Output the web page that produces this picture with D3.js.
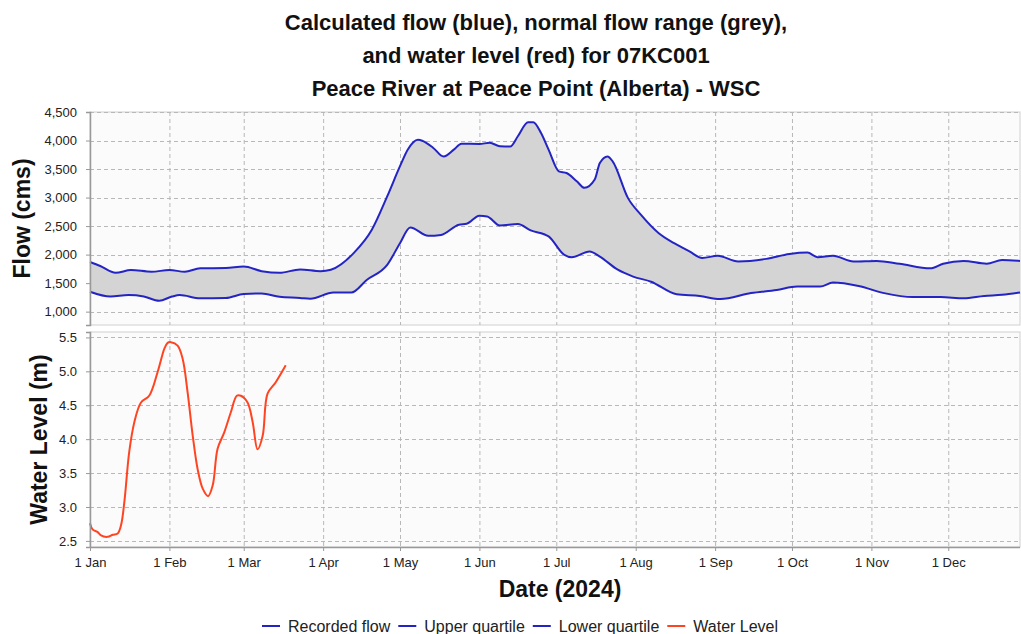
<!DOCTYPE html>
<html>
<head>
<meta charset="utf-8">
<script src="https://cdn.jsdelivr.net/npm/d3@7"></script>
<style>
  body { margin: 0; background: #fff; }
  text { font-family: "Liberation Sans", Arial, sans-serif; }
</style>
</head>
<body>
<script>
// day of year (0 = 1 Jan 2024) and flow values
var upperDays = [0,4,10,16,24,31,37,43,53,60,67,74,82,90,94,103,110,116,121,124,128,130,134,138,142,145,152,156,160,164,167,171,173,176,179,183,186,190,193,197,199,202,204,210,215,222,228,234,239,245,253,264,273,280,284,290,298,307,316,328,333,341,350,356,363];
var upperFlow = [1870,1800,1680,1730,1700,1730,1700,1760,1765,1790,1710,1680,1740,1710,1735,2030,2435,3020,3550,3840,4015,3990,3870,3720,3840,3945,3940,3960,3900,3895,4075,4320,4320,4135,3840,3460,3430,3285,3170,3315,3605,3720,3635,2990,2700,2375,2200,2055,1940,1980,1880,1925,2010,2035,1955,1980,1880,1890,1840,1760,1840,1890,1840,1905,1890];

var lowerDays = [0,8,15,21,27,32,35,43,53,60,67,74,82,86,95,102,108,116,121,125,132,137,144,147,152,155,160,167,172,179,185,188,195,199,206,212,219,229,238,246,258,268,276,285,290,300,310,321,332,341,349,356,363];
var lowerFlow = [1350,1265,1290,1265,1190,1265,1290,1235,1240,1310,1320,1260,1240,1225,1335,1335,1555,1820,2200,2475,2330,2345,2525,2540,2680,2670,2510,2535,2425,2320,2000,1955,2055,1965,1735,1615,1525,1305,1275,1220,1325,1380,1440,1440,1510,1450,1325,1255,1255,1235,1275,1295,1335];

var levelDays = [0,1,3,4.3,6.9,8.9,10.8,12.1,13.4,15.3,17.3,19.9,23.1,26.4,29,30.3,31.6,34.2,36.2,38.1,40.1,42,44,46.1,47.9,49.8,52.4,55,57.3,58.9,61.5,63.5,65.4,67.4,69.3,72.5,76.4];
var waterLevel = [2.76,2.67,2.63,2.58,2.56,2.59,2.61,2.73,3.07,3.81,4.25,4.54,4.64,4.99,5.33,5.42,5.43,5.38,5.18,4.69,4.05,3.56,3.27,3.16,3.32,3.86,4.10,4.40,4.64,4.64,4.54,4.25,3.85,4.05,4.67,4.84,5.09];

var flowTicks = [1000,1500,2000,2500,3000,3500,4000,4500];
var levelTicks = [2.5,3.0,3.5,4.0,4.5,5.0,5.5];

var titleLines = ["Calculated flow (blue), normal flow range (grey),",
                  "and water level (red) for 07KC001",
                  "Peace River at Peace Point (Alberta) - WSC"];
var legendNames = ["Recorded flow","Upper quartile","Lower quartile","Water Level"];
var legendColors = ["#2424c4","#2424c4","#2424c4","#ff4422"];

var W = 1021, H = 634;
var left = 90, right = 1020;
var top1 = 112, bot1 = 325, top2 = 332, bot2 = 547;
var blue = "#2424c4", red = "#ff4422";

var start = new Date(2024,0,1);
function toDate(d){ return new Date(start.getTime() + d*86400000); }

var svg = d3.select("body").append("svg")
  .attr("width", W).attr("height", H);

var x = d3.scaleTime()
  .domain([start, toDate(363)])
  .range([left, right]);

var yFlow = d3.scaleLinear().domain([766, 4500]).range([bot1, top1]);
var yLevel = d3.scaleLinear().domain([2.41, 5.58]).range([bot2, top2]);

var months = d3.timeMonth.range(start, toDate(364));

// panels
[[top1,bot1],[top2,bot2]].forEach(function(p){
  svg.append("rect")
    .attr("x", left).attr("y", p[0])
    .attr("width", right-left).attr("height", p[1]-p[0])
    .attr("fill", "#fbfbfb")
    .attr("stroke", "#d0d0d0");
});

function grid(y0, y1, scale, ticks){
  var g = svg.append("g")
    .attr("stroke", "#b8b8b8")
    .attr("stroke-dasharray", "4,3");
  g.selectAll(".v").data(months.slice(1)).enter().append("line")
    .attr("x1", d=>x(d)+0.5).attr("x2", d=>x(d)+0.5)
    .attr("y1", y0).attr("y2", y1);
  g.selectAll(".h").data(ticks).enter().append("line")
    .attr("x1", left).attr("x2", right)
    .attr("y1", d=>Math.round(scale(d))+0.5).attr("y2", d=>Math.round(scale(d))+0.5);
}
grid(top1, bot1, yFlow, flowTicks);
grid(top2, bot2, yLevel, levelTicks);

var upper = upperDays.map((d,i)=>({day:d, v:upperFlow[i]}));
var lower = lowerDays.map((d,i)=>({day:d, v:lowerFlow[i]}));

var flowLine = d3.line()
  .x(d=>x(toDate(d.day)))
  .y(d=>yFlow(d.v))
  .curve(d3.curveMonotoneX);

// grey range: area under upper curve, clipped to the region above the lower curve
svg.append("clipPath").attr("id", "clipLow")
  .append("path")
  .attr("d", d3.area().x(d=>x(toDate(d.day))).y0(top1).y1(d=>yFlow(d.v)).curve(d3.curveMonotoneX)(lower));
svg.append("path")
  .attr("clip-path", "url(#clipLow)")
  .attr("d", d3.area().x(d=>x(toDate(d.day))).y0(bot1).y1(d=>yFlow(d.v)).curve(d3.curveMonotoneX)(upper))
  .attr("fill", "#d4d4d4");

svg.append("path").datum(upper)
  .attr("d", flowLine).attr("fill","none")
  .attr("stroke", blue).attr("stroke-width", 2);
svg.append("path").datum(lower)
  .attr("d", flowLine).attr("fill","none")
  .attr("stroke", blue).attr("stroke-width", 2);

// water level
var level = levelDays.map((d,i)=>({day:d, v:waterLevel[i]}));
svg.append("path").datum(level)
  .attr("d", d3.line().x(d=>x(toDate(d.day))).y(d=>yLevel(d.v)).curve(d3.curveCatmullRom))
  .attr("fill","none")
  .attr("stroke", red).attr("stroke-width", 2);

// axes
var axFlow = svg.append("g").attr("transform","translate("+left+",0)")
  .call(d3.axisLeft(yFlow).tickValues(flowTicks).tickFormat(d3.format(",")).tickSize(4).tickPadding(9));
var axLevel = svg.append("g").attr("transform","translate("+left+",0)")
  .call(d3.axisLeft(yLevel).tickValues(levelTicks).tickFormat(d3.format(".1f")).tickSize(4).tickPadding(9));
var axX = svg.append("g").attr("transform","translate(0,"+bot2+")")
  .call(d3.axisBottom(x).tickValues(months).tickFormat(d3.timeFormat("%-d %b")).tickSize(4).tickPadding(7));

[axFlow, axLevel, axX].forEach(function(a){
  a.select(".domain").attr("stroke","#999").attr("stroke-width",1.5);
  a.selectAll(".tick line").attr("stroke","#999");
  a.selectAll(".tick text").attr("fill","#222").style("font-size","13px")
    .style("font-family","Liberation Sans, Arial, sans-serif");
});
axX.select(".domain").attr("d", "M"+left+",0.5H"+right);

// titles
svg.append("g").selectAll("text").data(titleLines).enter().append("text")
  .attr("x", 536).attr("y", (d,i)=>30+i*33)
  .attr("text-anchor","middle")
  .style("font-size","22px").style("font-weight","bold")
  .attr("fill","#111")
  .text(d=>d);

svg.append("text")
  .attr("transform","translate(30,"+((top1+bot1)/2)+") rotate(-90)")
  .attr("text-anchor","middle")
  .style("font-size","23px").style("font-weight","bold").attr("fill","#111")
  .text("Flow (cms)");
svg.append("text")
  .attr("transform","translate(47,"+((top2+bot2)/2)+") rotate(-90)")
  .attr("text-anchor","middle")
  .style("font-size","23px").style("font-weight","bold").attr("fill","#111")
  .text("Water Level (m)");
svg.append("text")
  .attr("x", 560).attr("y", 597)
  .attr("text-anchor","middle")
  .style("font-size","23px").style("font-weight","bold").attr("fill","#111")
  .text("Date (2024)");

// legend
var leg = svg.append("g").attr("transform","translate(262,626)");
var lx = 0;
legendNames.forEach(function(n,i){
  var g = leg.append("g").attr("transform","translate("+lx+",0)");
  g.append("line").attr("x1",0).attr("x2",18).attr("y1",0).attr("y2",0)
    .attr("stroke", legendColors[i]).attr("stroke-width",2);
  var t = g.append("text").attr("x",26).attr("y",5.5)
    .style("font-size","16px").attr("fill","#222").text(n);
  lx += 26 + t.node().getComputedTextLength() + 8;
});
</script>
</body>
</html>
